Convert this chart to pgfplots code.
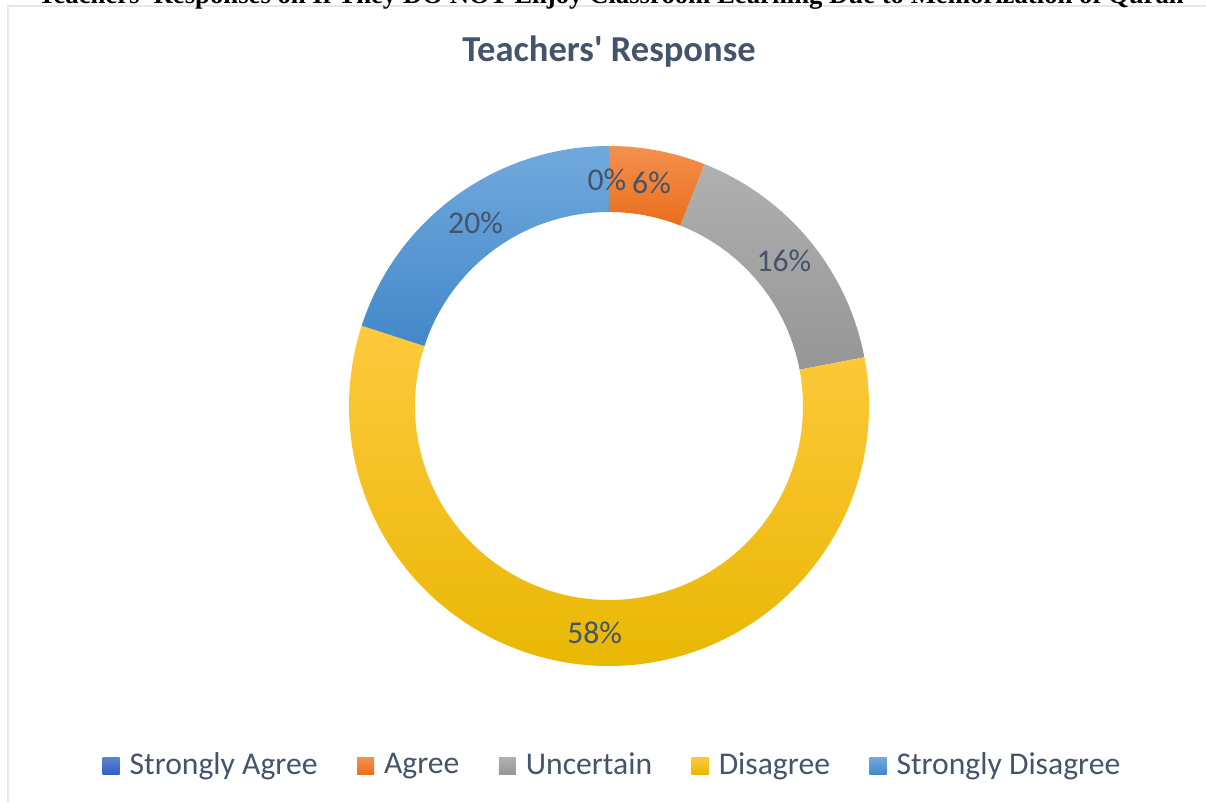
\documentclass[border=0pt]{standalone}
\usepackage{pgfplots}
\usepackage{pgfplotstable}
\pgfplotsset{compat=1.18}
\usepackage{fontspec}
\setmainfont{Carlito}
\newfontfamily\headfont{Liberation Serif}

\definecolor{txt}{HTML}{44546A}
\definecolor{framec}{HTML}{E3E7EE}
\definecolor{t0}{HTML}{5B85D2}\definecolor{b0}{HTML}{2F62BF}
\definecolor{t1}{HTML}{F4914F}\definecolor{b1}{HTML}{E96E1B}
\definecolor{t2}{HTML}{B0B0B0}\definecolor{b2}{HTML}{969696}
\definecolor{t3}{HTML}{FFC93E}\definecolor{b3}{HTML}{E7B700}
\definecolor{t4}{HTML}{71A9DD}\definecolor{b4}{HTML}{4388C9}

% share of answers, %, clockwise from 12 o'clock
\pgfplotstableread{
val
0
6
16
58
20
}\donut

\tikzset{lab/.style={font=\fontsize{9}{11}\selectfont, text=txt}}

\begin{document}
\begin{tikzpicture}
\begin{axis}[
    at={(0,0)}, anchor=south west,
    width=12.06cm, height=8.02cm, scale only axis,
    xmin=0, xmax=1206, ymin=0, ymax=802,
    enlargelimits=false, hide axis, clip=false,
    legend columns=-1,
    legend style={at={(axis cs:615,36)}, anchor=center, draw=none, fill=none,
        font=\fontsize{9}{11}\selectfont, text=txt,
        /tikz/every odd column/.append style={column sep=0.03cm},
        /tikz/every even column/.append style={column sep=0.325cm}},
]
% frame of the chart area
\draw[framec, line width=0.02cm] (axis cs:8,0) -- (axis cs:8,796) -- (axis cs:1206,796);

\node[anchor=base, font=\headfont\bfseries\fontsize{7.6}{9}\selectfont]
    at (axis cs:611,798) {Teachers\textquotesingle\ Responses on If They DO NOT Enjoy Classroom Learning Due to Memorization of Quran};

\node[anchor=base, text=txt, font=\bfseries\fontsize{10.4}{12}\selectfont]
    at (axis cs:609,740) {Teachers\textquotesingle\ Response};

% wedges
\xdef\cum{0}
\pgfplotsinvokeforeach{0,...,4}{
    \pgfplotstablegetelem{#1}{val}\of\donut
    \edef\v{\pgfplotsretval}
    \pgfmathsetmacro\aA{90-3.6*\cum}
    \pgfmathsetmacro\aB{90-3.6*(\cum+\v)}
    \ifdim\v pt>0pt
      \edef\tmp{\noexpand\path[draw=none, top color=t#1, bottom color=b#1]
        ([shift={(\aA:2.60cm)}]axis cs:609,396) arc[start angle=\aA, end angle=\aB, radius=2.60cm]
        -- ([shift={(\aB:1.94cm)}]axis cs:609,396) arc[start angle=\aB, end angle=\aA, radius=1.94cm]
        -- cycle;}
      \tmp
    \fi
    \pgfmathsetmacro\c{\cum+\v}
    \xdef\cum{\c}
}

% data labels, drawn on top of the wedges
\xdef\cum{0}
\pgfplotsinvokeforeach{0,...,4}{
    \pgfplotstablegetelem{#1}{val}\of\donut
    \edef\v{\pgfplotsretval}
    \pgfmathsetmacro\aM{90-3.6*(\cum+\v/2)}
    \ifdim\v pt>0pt
      \edef\tmp{\noexpand\node[lab] at ([shift={(\aM:2.27cm)}]axis cs:609,396) {\v\noexpand\%};}
    \else
      \edef\tmp{\noexpand\node[lab] at ([shift={(\aM:2.26cm)}]axis cs:607,396) {\v\noexpand\%};}
    \fi
    \tmp
    \pgfmathsetmacro\c{\cum+\v}
    \xdef\cum{\c}
}

\addlegendimage{legend image code/.code={\path[draw=none, top color=t0, bottom color=b0] (0cm,-0.085cm) rectangle (0.17cm,0.085cm);}}
\addlegendentry{Strongly Agree}
\addlegendimage{legend image code/.code={\path[draw=none, top color=t1, bottom color=b1] (0cm,-0.085cm) rectangle (0.17cm,0.085cm);}}
\addlegendentry{Agree}
\addlegendimage{legend image code/.code={\path[draw=none, top color=t2, bottom color=b2] (0cm,-0.085cm) rectangle (0.17cm,0.085cm);}}
\addlegendentry{Uncertain}
\addlegendimage{legend image code/.code={\path[draw=none, top color=t3, bottom color=b3] (0cm,-0.085cm) rectangle (0.17cm,0.085cm);}}
\addlegendentry{Disagree}
\addlegendimage{legend image code/.code={\path[draw=none, top color=t4, bottom color=b4] (0cm,-0.085cm) rectangle (0.17cm,0.085cm);}}
\addlegendentry{Strongly Disagree}
\end{axis}
\pgfresetboundingbox
\path[use as bounding box] (0,0) rectangle (12.06cm,8.02cm);
\end{tikzpicture}
\end{document}
